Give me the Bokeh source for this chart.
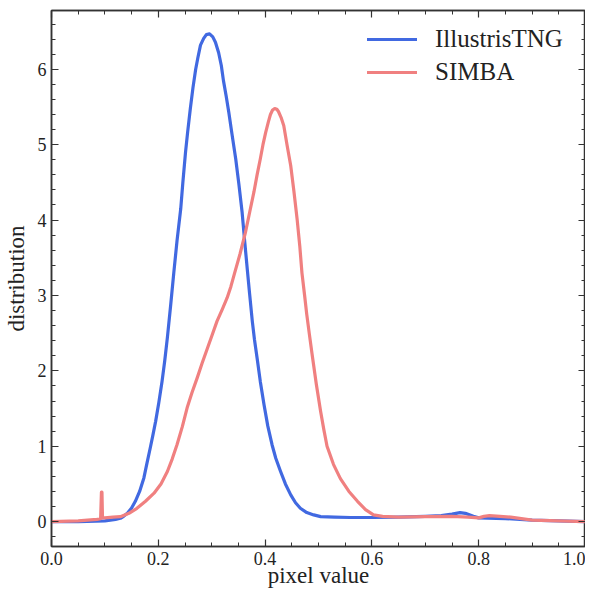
from bokeh.plotting import figure
from bokeh.models import (Range1d, LinearAxis, FixedTicker, PrintfTickFormatter,
                          CustomJSTickFormatter, Legend, LegendItem, ColumnDataSource)
from bokeh.embed import file_html
from bokeh.resources import INLINE

# ---- data ----
tng_x = [0.00, 0.05, 0.10, 0.12, 0.129, 0.135, 0.142, 0.150, 0.157, 0.165, 0.173,
         0.178, 0.185, 0.190, 0.195, 0.201, 0.207, 0.212, 0.217, 0.223, 0.229,
         0.235, 0.242, 0.246, 0.251, 0.255, 0.260, 0.265, 0.270, 0.274, 0.279,
         0.285, 0.290, 0.296, 0.302, 0.307, 0.313, 0.318, 0.322, 0.327, 0.332,
         0.338, 0.345, 0.351, 0.357, 0.362, 0.367, 0.371, 0.376, 0.380, 0.385,
         0.391, 0.398, 0.405, 0.413, 0.420, 0.429, 0.438, 0.448, 0.457, 0.466,
         0.478, 0.491, 0.504, 0.53, 0.56, 0.60, 0.65, 0.70, 0.73, 0.75,
         0.765, 0.775, 0.79, 0.80, 0.85, 0.90, 0.95, 1.00]
tng_y = [0.00, 0.00, 0.01, 0.03, 0.044, 0.07, 0.11, 0.18, 0.27, 0.40, 0.58,
         0.75, 0.98, 1.15, 1.33, 1.58, 1.86, 2.13, 2.44, 2.86, 3.30,
         3.72, 4.15, 4.50, 4.90, 5.17, 5.48, 5.76, 6.00, 6.15, 6.32,
         6.41, 6.46, 6.47, 6.43, 6.36, 6.22, 6.05, 5.85, 5.65, 5.43,
         5.14, 4.81, 4.47, 4.10, 3.70, 3.32, 3.02, 2.66, 2.42, 2.17,
         1.86, 1.55, 1.27, 1.02, 0.84, 0.665, 0.50, 0.355, 0.25, 0.177,
         0.12, 0.089, 0.066, 0.06, 0.055, 0.055, 0.06, 0.07, 0.08, 0.10,
         0.12, 0.11, 0.07, 0.05, 0.04, 0.02, 0.01, 0.00]

simba_x = [0.00, 0.05, 0.085, 0.092, 0.0935, 0.0945, 0.0955, 0.10, 0.115, 0.129,
           0.145, 0.160, 0.176, 0.192, 0.205, 0.217, 0.226, 0.235, 0.245, 0.254,
           0.263, 0.273, 0.282, 0.292, 0.301, 0.310, 0.320, 0.329, 0.336, 0.343,
           0.353, 0.363, 0.371, 0.379, 0.385, 0.391, 0.396, 0.401, 0.406, 0.410,
           0.414, 0.418, 0.422, 0.425, 0.430, 0.435, 0.441, 0.448, 0.454, 0.460,
           0.465, 0.469, 0.474, 0.478, 0.483, 0.488, 0.496, 0.504, 0.510, 0.516,
           0.528, 0.541, 0.557, 0.573, 0.588, 0.603, 0.62, 0.65, 0.70, 0.75,
           0.78, 0.80, 0.81, 0.82, 0.84, 0.86, 0.88, 0.90, 0.95, 1.00]
simba_y = [0.00, 0.01, 0.03, 0.04, 0.39, 0.39, 0.05, 0.05, 0.06, 0.066,
           0.11, 0.177, 0.27, 0.377, 0.50, 0.665, 0.83, 1.02, 1.26, 1.51,
           1.71, 1.91, 2.10, 2.30, 2.48, 2.66, 2.82, 2.97, 3.12, 3.30,
           3.55, 3.83, 4.10, 4.37, 4.60, 4.81, 5.00, 5.16, 5.30, 5.40,
           5.46, 5.48, 5.47, 5.44, 5.36, 5.25, 5.00, 4.72, 4.38, 4.01,
           3.65, 3.30, 3.00, 2.75, 2.48, 2.22, 1.82, 1.46, 1.22, 1.00,
           0.76, 0.57, 0.40, 0.27, 0.16, 0.09, 0.07, 0.06, 0.065, 0.07,
           0.06, 0.05, 0.07, 0.08, 0.07, 0.06, 0.04, 0.02, 0.01, 0.00]

x_major = [0.0, 0.2, 0.4, 0.6, 0.8, 1.0]
x_minor = [0.05, 0.1, 0.15, 0.25, 0.3, 0.35, 0.45, 0.5, 0.55, 0.65, 0.7, 0.75, 0.85, 0.9, 0.95]
y_major = [0, 1, 2, 3, 4, 5, 6]
y_minor = [-0.2, 0.2, 0.4, 0.6, 0.8, 1.2, 1.4, 1.6, 1.8, 2.2, 2.4, 2.6, 2.8,
           3.2, 3.4, 3.6, 3.8, 4.2, 4.4, 4.6, 4.8, 5.2, 5.4, 5.6, 5.8,
           6.2, 6.4, 6.6]

x_label = "pixel value"
y_label = "distribution"

FONT = "Liberation Serif"
AX = "#333333"

p = figure(width=585, height=590, output_backend="svg", toolbar_location=None,
           x_range=Range1d(0, 1), y_range=Range1d(-0.33, 6.78),
           x_axis_label=x_label, y_axis_label=y_label,
           min_border_left=10, min_border_right=0, min_border_top=10, min_border_bottom=10)
p.grid.visible = False
p.outline_line_color = AX
p.outline_line_width = 1.5
p.background_fill_color = "white"
p.border_fill_color = "white"

def style_axis(ax, major, minor, show_labels):
    ax.ticker = FixedTicker(ticks=major, minor_ticks=minor)
    ax.major_tick_in = 7
    ax.major_tick_out = 0
    ax.minor_tick_in = 4
    ax.minor_tick_out = 0
    ax.major_tick_line_color = AX
    ax.minor_tick_line_color = AX
    ax.major_tick_line_width = 1.2
    ax.minor_tick_line_width = 1.0
    ax.axis_line_color = AX
    ax.axis_line_width = 1.5
    ax.major_label_text_font = FONT
    ax.major_label_text_color = "#222222"
    ax.axis_label_text_font = FONT
    ax.axis_label_text_font_style = "normal"
    ax.axis_label_text_color = "#222222"
    if show_labels:
        ax.major_label_text_font_size = "18px"
        ax.axis_label_text_font_size = "23px"
        ax.major_label_standoff = 5
    else:
        ax.formatter = CustomJSTickFormatter(code="return '';")
        ax.major_label_text_font_size = "1px"
        ax.major_label_standoff = 0
        ax.axis_label = None

style_axis(p.xaxis[0], x_major, x_minor, True)
style_axis(p.yaxis[0], y_major, y_minor, True)
p.xaxis[0].formatter = PrintfTickFormatter(format="%.1f")
p.yaxis[0].formatter = PrintfTickFormatter(format="%d")
p.xaxis[0].axis_label_standoff = -5
p.yaxis[0].axis_label_standoff = 6

top = LinearAxis()
right = LinearAxis()
style_axis(top, x_major, x_minor, False)
style_axis(right, y_major, y_minor, False)
p.add_layout(top, "above")
p.add_layout(right, "right")

tng_src = ColumnDataSource(dict(x=tng_x, y=tng_y))
simba_src = ColumnDataSource(dict(x=simba_x, y=simba_y))
r1 = p.line("x", "y", source=tng_src, line_color="#4169E1", line_width=3.2,
            line_join="round", line_cap="round")
r2 = p.line("x", "y", source=simba_src, line_color="#F08080", line_width=3.2,
            line_join="round", line_cap="round")

legend = Legend(items=[LegendItem(label="IllustrisTNG", renderers=[r1]),
                       LegendItem(label="SIMBA", renderers=[r2])],
                location="top_right")
legend.label_text_font = FONT
legend.label_text_font_size = "25px"
legend.label_text_color = "#222222"
legend.border_line_color = None
legend.background_fill_alpha = 0
legend.glyph_width = 50
legend.glyph_height = 30
legend.label_height = 30
legend.label_width = 136
legend.label_standoff = 18
legend.spacing = 3
legend.padding = 4
legend.margin = 14
p.add_layout(legend)

open("out.html", "w").write(file_html(p, INLINE))
